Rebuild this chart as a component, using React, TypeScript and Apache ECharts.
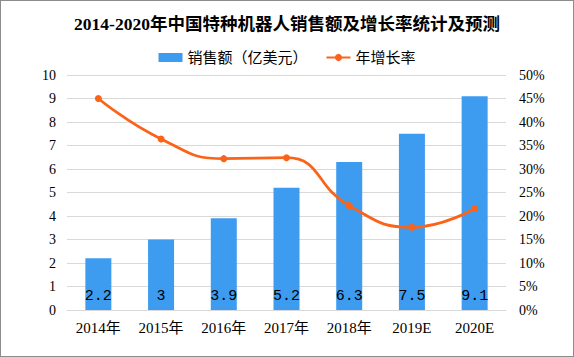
import React, { useEffect, useRef } from "react";
import * as echarts from "echarts";

const categories = ["2014年", "2015年", "2016年", "2017年", "2018年", "2019E", "2020E"];
const sales = [2.2, 3, 3.9, 5.2, 6.3, 7.5, 9.1];
const growth = [45, 36.4, 32.2, 32.4, 22.2, 17.6, 21.6];

const FONT = "'Liberation Serif', 'Noto Sans CJK SC', serif";

export default function App() {
  const ref = useRef<HTMLDivElement>(null);
  useEffect(() => {
    const chart = echarts.init(ref.current!, null, { renderer: "svg" });
    chart.setOption({
      animation: false,
      backgroundColor: "#fff",
      textStyle: { fontFamily: FONT },
      title: {
        text: "2014-2020年中国特种机器人销售额及增长率统计及预测",
        left: "center",
        top: 9,
        textStyle: { fontSize: 17.5, fontWeight: "bold", color: "#000", fontFamily: FONT },
      },
      legend: {
        top: 44,
        left: "center",
        itemGap: 18,
        itemWidth: 24,
        itemHeight: 9,
        textStyle: { fontSize: 15, color: "#000", fontFamily: FONT },
        data: [
          { name: "销售额（亿美元）", icon: "rect" },
          { name: "年增长率" },
        ],
      },
      grid: { left: 66, right: 67, top: 74, bottom: 46 },
      xAxis: {
        type: "category",
        data: categories,
        axisLine: { show: true, lineStyle: { color: "#d9d9d9" } },
        axisTick: { show: false },
        axisLabel: { color: "#000", fontSize: 15, margin: 10, fontFamily: FONT },
      },
      yAxis: [
        {
          type: "value",
          min: 0,
          max: 10,
          interval: 1,
          axisLine: { show: false },
          axisTick: { show: false },
          axisLabel: { color: "#000", fontSize: 14, margin: 11, fontFamily: FONT },
          splitLine: { lineStyle: { color: "#d9d9d9" } },
        },
        {
          type: "value",
          min: 0,
          max: 50,
          interval: 5,
          axisLine: { show: false },
          axisTick: { show: false },
          axisLabel: { color: "#000", fontSize: 14, margin: 13, formatter: "{value}%", fontFamily: FONT },
          splitLine: { show: false },
        },
      ],
      series: [
        {
          name: "销售额（亿美元）",
          type: "bar",
          data: sales,
          barWidth: 26,
          itemStyle: { color: "#3d9cf0" },
          label: {
            show: true,
            position: "insideBottom",
            distance: 6,
            color: "#000",
            fontSize: 15,
            fontFamily: "'Liberation Mono', monospace",
          },
        },
        {
          name: "年增长率",
          type: "line",
          yAxisIndex: 1,
          data: growth,
          smooth: true,
          symbol: "circle",
          symbolSize: 7,
          lineStyle: { color: "#fb6418", width: 2.75 },
          itemStyle: { color: "#fb6418" },
        },
      ],
    });
    return () => chart.dispose();
  }, []);
  return (
    <div
      style={{
        position: "fixed",
        left: 0,
        top: 0,
        width: 574,
        height: 357,
        boxSizing: "border-box",
        border: "1px solid #8c8c8c",
        background: "#fff",
      }}
    >
      <div ref={ref} style={{ width: 572, height: 355 }} />
    </div>
  );
}
